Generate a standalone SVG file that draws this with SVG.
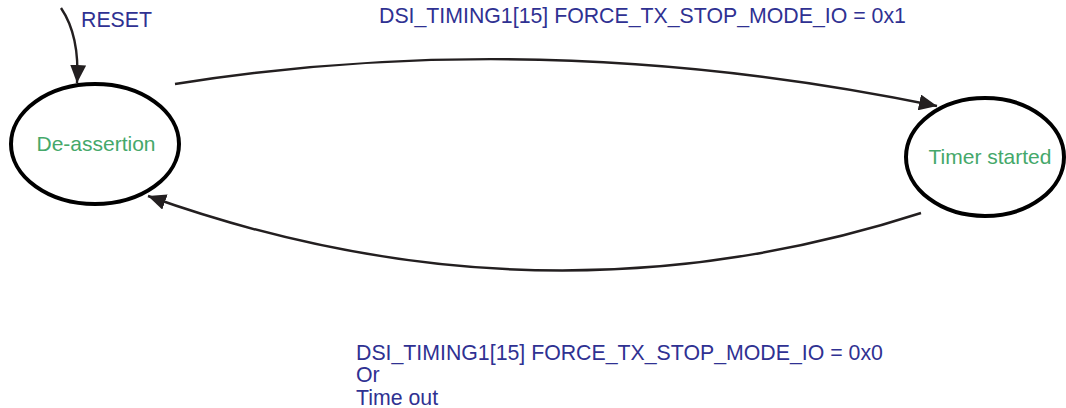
<svg xmlns="http://www.w3.org/2000/svg" width="1066" height="408" viewBox="0 0 1066 408">
<style>
.state{fill:#fff;stroke:#000;stroke-width:4}
.sl{font-family:"Liberation Sans",Arial,sans-serif;font-size:21px;fill:#45a86a;text-anchor:middle}
.lbl{font-family:"Liberation Sans",Arial,sans-serif;font-size:21.3px;fill:#2f3192}
.edge{fill:none;stroke:#231f20;stroke-width:2.4}
</style>
<defs>
<marker id="ah" markerUnits="userSpaceOnUse" markerWidth="20" markerHeight="16" refX="18" refY="8" orient="auto">
<path d="M0,0 L18,8 L0,16 Z" fill="#231f20"/>
</marker>
</defs>
<rect width="1066" height="408" fill="#fff"/>
<g id="connectors">
<path class="edge" d="M61 8 Q80 36 77 83" marker-end="url(#ah)"/>
<path class="edge" d="M175 84 Q545 25 937 106" marker-end="url(#ah)"/>
<path class="edge" d="M921 213 Q540 336 148 196" marker-end="url(#ah)"/>
</g>
<g id="node-deassertion">
<ellipse class="state" cx="95" cy="144" rx="84" ry="60"/>
<text class="sl" x="96" y="151">De-assertion</text>
</g>
<g id="node-timer">
<ellipse class="state" cx="985" cy="157" rx="79" ry="59"/>
<text class="sl" x="990" y="164">Timer started</text>
</g>
<g id="labels">
<text class="lbl" x="81" y="27">RESET</text>
<text class="lbl" x="379" y="23">DSI_TIMING1[15] FORCE_TX_STOP_MODE_IO = 0x1</text>
<text class="lbl" x="356" y="360">DSI_TIMING1[15] FORCE_TX_STOP_MODE_IO = 0x0</text>
<text class="lbl" x="356" y="382">Or</text>
<text class="lbl" x="356" y="405">Time out</text>
</g>
</svg>
